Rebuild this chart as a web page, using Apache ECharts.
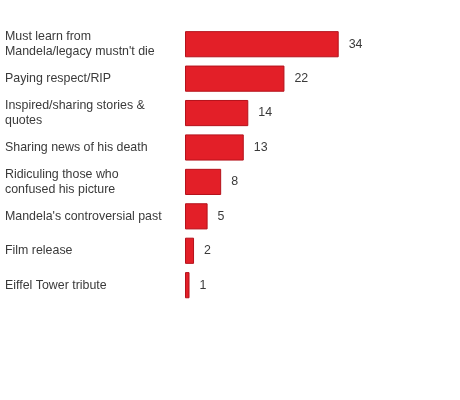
<!DOCTYPE html>
<html>
<head>
<meta charset="utf-8">
<script src="https://cdn.jsdelivr.net/npm/echarts@6/dist/echarts.min.js"></script>
<style>
html,body{margin:0;padding:0;background:#fff;}
#chart{width:460px;height:400px;}
</style>
</head>
<body>
<div id="chart"></div>
<script>
var categories = [
  "Must learn from\nMandela/legacy mustn't die",
  "Paying respect/RIP",
  "Inspired/sharing stories &\nquotes",
  "Sharing news of his death",
  "Ridiculing those who\nconfused his picture",
  "Mandela's controversial past",
  "Film release",
  "Eiffel Tower tribute"
];
var values = [34, 22, 14, 13, 8, 5, 2, 1];

var chart = echarts.init(document.getElementById('chart'));
chart.setOption({
  animation: false,
  textStyle: { fontFamily: 'Liberation Sans, Arial, sans-serif' },
  grid: { left: 185, top: 27, width: 153.7, height: 275.4, containLabel: false },
  xAxis: {
    type: 'value', min: 0, max: 34,
    show: false
  },
  yAxis: {
    type: 'category',
    data: categories,
    inverse: true,
    axisLine: { show: false },
    axisTick: { show: false },
    splitLine: { show: false },
    axisLabel: {
      align: 'left',
      margin: 180,
      color: '#3a3a3a',
      fontSize: 12.4,
      lineHeight: 15,
      fontFamily: 'Liberation Sans, Arial, sans-serif'
    }
  },
  series: [{
    type: 'bar',
    data: values,
    barCategoryGap: '24%',
    itemStyle: { color: '#e31f28', borderColor: '#b5121b', borderWidth: 1 },
    label: {
      show: true,
      position: 'right',
      distance: 10,
      color: '#3a3a3a',
      fontSize: 12.4,
      fontFamily: 'Liberation Sans, Arial, sans-serif'
    }
  }]
});
</script>
</body>
</html>
